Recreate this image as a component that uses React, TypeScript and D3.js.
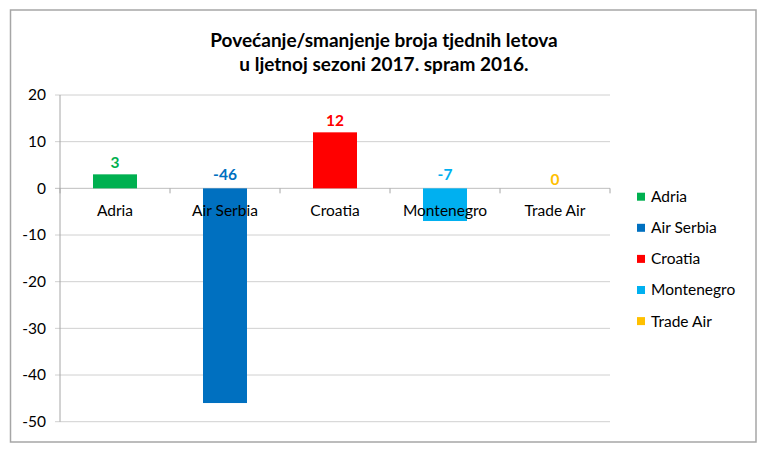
import React, { useEffect, useRef } from "react";
import * as d3 from "d3";

const categories = ["Adria", "Air Serbia", "Croatia", "Montenegro", "Trade Air"];
const values = [3, -46, 12, -7, 0];
const colors = ["#00B050", "#0070C0", "#FF0000", "#00B0F0", "#FFC000"];
const yTicks = [20, 10, 0, -10, -20, -30, -40, -50];
const titleLines = ["Povećanje/smanjenje broja tjednih letova", "u ljetnoj sezoni 2017. spram 2016."];

const FONT = "Lato, 'Open Sans', sans-serif";

export default function App() {
  const ref = useRef<SVGSVGElement>(null);
  useEffect(() => {
    const svg = d3.select(ref.current);
    svg.selectAll("*").remove();
    const W = 768, H = 456;
    const left = 60, right = 610, top = 95, bottom = 421.7;

    svg.append("rect").attr("width", W).attr("height", H).attr("fill", "#fff");
    svg.append("rect").attr("x", 10.5).attr("y", 10).attr("width", 745.5).attr("height", 432)
      .attr("fill", "#fff").attr("stroke", "#a6a6a6").attr("stroke-width", 1.5);

    const title = svg.append("text").attr("text-anchor", "middle").attr("font-family", FONT)
      .attr("font-weight", "bold").attr("font-size", 19).attr("fill", "#000");
    titleLines.forEach((t, i) => {
      title.append("tspan").attr("x", 384).attr("y", 47 + i * 24).text(t);
    });

    const x = d3.scaleBand<string>().domain(categories).range([left, right]).paddingInner(0.6).paddingOuter(0.3);
    const xc = d3.scaleBand<string>().domain(categories).range([left, right]);
    const y = d3.scaleLinear().domain([-50, 20]).range([bottom, top]);

    // gridlines
    svg.append("g").selectAll("line").data(yTicks).join("line")
      .attr("x1", left - 5).attr("x2", right)
      .attr("y1", (d) => y(d)).attr("y2", (d) => y(d))
      .attr("stroke", (d) => (d === 0 ? "#bfbfbf" : "#d0d0d0")).attr("stroke-width", 1);

    // y axis line
    svg.append("line").attr("x1", left).attr("x2", left).attr("y1", top).attr("y2", bottom)
      .attr("stroke", "#a6a6a6").attr("stroke-width", 1);

    // y tick labels
    svg.append("g").selectAll("text").data(yTicks).join("text")
      .attr("x", 46).attr("y", (d) => y(d)).attr("dy", "0.35em")
      .attr("text-anchor", "end").attr("font-family", FONT).attr("font-size", 15.5).attr("fill", "#000")
      .text((d) => String(d));

    // bars
    svg.append("g").selectAll("rect").data(values).join("rect")
      .attr("x", (_, i) => x(categories[i])!)
      .attr("width", x.bandwidth())
      .attr("y", (d) => y(Math.max(0, d)))
      .attr("height", (d) => Math.abs(y(d) - y(0)))
      .attr("fill", (_, i) => colors[i]);

    // category tick marks on zero line
    const ticks = d3.range(categories.length + 1).map((i) => left + i * xc.step());
    svg.append("g").selectAll("line").data(ticks).join("line")
      .attr("x1", (d) => d).attr("x2", (d) => d)
      .attr("y1", y(0)).attr("y2", y(0) + 5)
      .attr("stroke", "#a6a6a6");

    // category labels
    svg.append("g").selectAll("text").data(categories).join("text")
      .attr("x", (d) => xc(d)! + xc.bandwidth() / 2).attr("y", y(0) + 27.5)
      .attr("text-anchor", "middle").attr("font-family", FONT).attr("font-size", 15.5).attr("fill", "#000")
      .text((d) => d);

    // value labels
    svg.append("g").selectAll("text").data(values).join("text")
      .attr("x", (_, i) => xc(categories[i])! + xc.bandwidth() / 2)
      .attr("y", (d) => (d > 0 ? y(d) - 6.5 : d < 0 ? y(0) - 8 : y(0) - 3.5))
      .attr("text-anchor", "middle").attr("font-family", FONT).attr("font-weight", "bold")
      .attr("font-size", 15.5).attr("fill", (_, i) => colors[i])
      .text((d) => String(d));

    // legend
    const lg = svg.append("g").selectAll("g").data(categories).join("g")
      .attr("transform", (_, i) => `translate(637, ${196.7 + i * 31.1})`);
    lg.append("rect").attr("x", 0).attr("y", -4).attr("width", 8).attr("height", 8)
      .attr("fill", (_, i) => colors[i]);
    lg.append("text").attr("x", 14).attr("y", 0).attr("dy", "0.35em")
      .attr("font-family", FONT).attr("font-size", 15.5).attr("fill", "#000")
      .text((d) => d);
  }, []);

  return (
    <svg ref={ref} width={768} height={456} style={{ position: "absolute", left: 0, top: 0 }} />
  );
}
